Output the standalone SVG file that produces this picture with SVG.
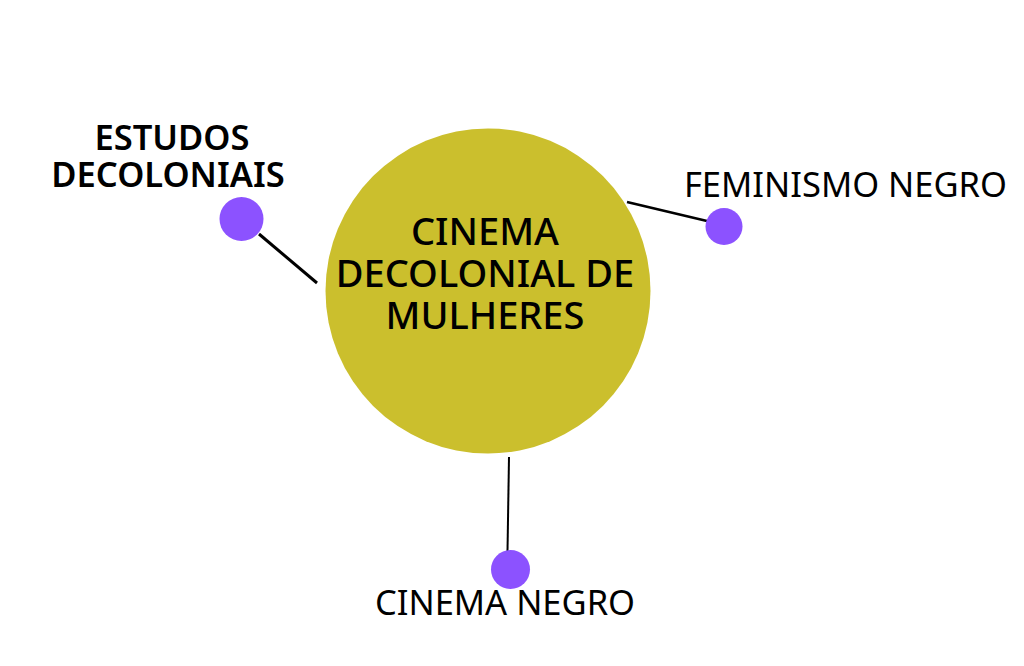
<svg xmlns="http://www.w3.org/2000/svg" width="1024" height="666" viewBox="0 0 1024 666">
<style>
text{font-family:"Noto Sans","Open Sans","DejaVu Sans",sans-serif;fill:#000;text-anchor:middle}
.dot{fill:#8C52FF}
.lnk{stroke:#000;fill:none;stroke-linecap:butt}
.lbl{font-size:34.5px}
.bold{font-size:34.5px;font-weight:600}
.main{font-size:38px;font-weight:500}
</style>
<rect width="1024" height="666" fill="#fff"/>
<g id="connectors">
<line class="lnk" x1="259" y1="234" x2="317" y2="283" stroke-width="3"/>
<line class="lnk" x1="627" y1="202" x2="707" y2="221" stroke-width="2.5"/>
<line class="lnk" x1="509" y1="457" x2="507.5" y2="551" stroke-width="2"/>
</g>
<g id="center">
<circle cx="488" cy="291" r="162.5" fill="#CBBF2D"/>
<text class="main" x="485" y="245">CINEMA</text>
<text class="main" x="485" y="287">DECOLONIAL DE</text>
<text class="main" x="485" y="329">MULHERES</text>
</g>
<g id="estudos">
<circle class="dot" cx="241.5" cy="219" r="22"/>
<text class="bold" x="172" y="150">ESTUDOS</text>
<text class="bold" x="168" y="187">DECOLONIAIS</text>
</g>
<g id="feminismo">
<circle class="dot" cx="724" cy="226.5" r="18.5"/>
<text class="lbl" x="845.5" y="197">FEMINISMO NEGRO</text>
</g>
<g id="cinema-negro">
<circle class="dot" cx="510.5" cy="569.5" r="19.5"/>
<text class="lbl" x="505" y="615">CINEMA NEGRO</text>
</g>
</svg>
